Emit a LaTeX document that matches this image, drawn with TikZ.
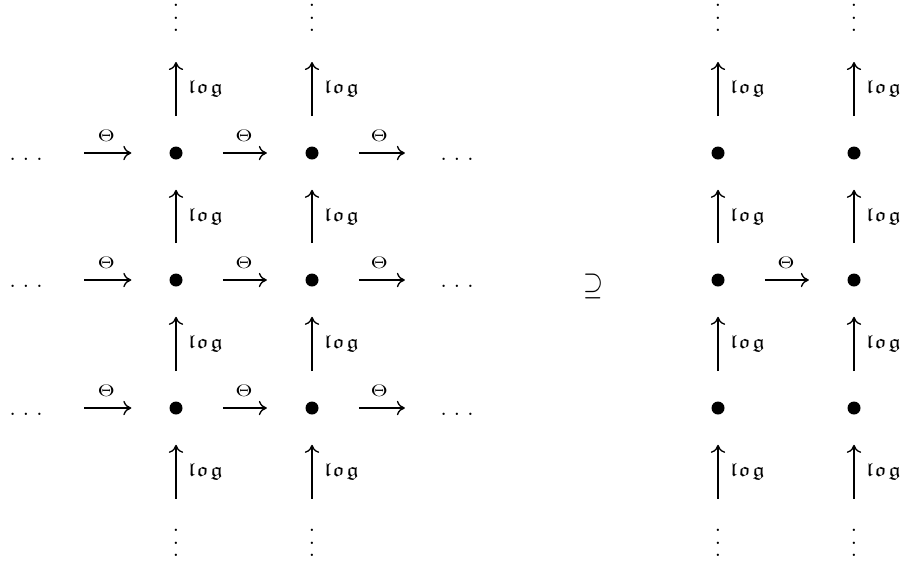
\documentclass[tikz,border=0pt]{standalone}
\usepackage{amssymb}
\usepackage{graphicx}
\usetikzlibrary{arrows.meta}
\begin{document}
\begin{tikzpicture}[x=0.6pt,y=-0.6pt,
  blt/.style={circle,fill=black,inner sep=0pt,minimum size=7.8pt},
  hdotsn/.style={inner sep=0pt,text height=8.6pt,text depth=0pt,font=\fontsize{17.28}{20}\selectfont},
  vdotsn/.style={inner sep=0pt,font=\fontsize{17.28}{20}\selectfont},
  arr/.style={line width=0.8pt,-{Computer Modern Rightarrow[length=4.8pt,width=8.6pt]}},
  hor/.style={arr,shorten <=24pt,shorten >=23pt},
  ver/.style={arr,shorten <=18pt,shorten >=18pt},
  th/.style={above=6.5pt,inner sep=0pt,font=\fontsize{10}{12}\selectfont},
  lg/.style={right=7pt,inner sep=0pt,font=\fontsize{10.95}{13}\selectfont},
  sup/.style={inner sep=0pt,font=\fontsize{10}{12}\selectfont}]
\useasboundingbox (0,0) rectangle (900,565);
\newcommand{\hdt}{.\hspace{3.7pt}.\hspace{3.7pt}.}
\newcommand{\vdt}{\vbox{\baselineskip=7.5pt\hbox{.}\hbox{.}\hbox{.}}}
\newcommand{\lgt}{\scalebox{1.3}[1.05]{$\mathfrak{l}\mkern1.5mu\mathfrak{o}\mkern1.5mu\mathfrak{g}$}}
\newcommand{\tht}{\scalebox{1.3}[1]{$\Theta$}}
% left grid
\foreach \r/\y in {1/153,2/280,3/408}{
  \node[hdotsn] (L\r) at (26,\y) {\hdt};
  \node[blt] (a\r) at (176,\y) {};
  \node[blt] (b\r) at (312,\y) {};
  \node[hdotsn] (R\r) at (457,\y) {\hdt};
  \draw[hor,shorten <=24.5pt,shorten >=22.7pt] (L\r) -- node[th] {\tht} (a\r);
  \draw[hor] (a\r) -- node[th] {\tht} (b\r);
  \draw[hor,shorten >=20.9pt] (b\r) -- node[th] {\tht} (R\r);
}
\node[vdotsn] (ta) at (176,18) {\vdt};
\node[vdotsn] (tb) at (312,18) {\vdt};
\node[vdotsn] (ba) at (176,543) {\vdt};
\node[vdotsn] (bb) at (312,543) {\vdt};
\foreach \c in {a,b}{
  \draw[ver] (\c1) -- node[lg] {\lgt} (t\c);
  \draw[ver] (\c2) -- node[lg] {\lgt} (\c1);
  \draw[ver] (\c3) -- node[lg] {\lgt} (\c2);
  \draw[ver] (b\c) -- node[lg] {\lgt} (\c3);
}
% superset
\node[sup] (s) at (593.5,286.5) {\scalebox{1.54}[1.93]{$\supseteq$}};
% right grid
\foreach \r/\y in {1/153,2/280,3/408}{
  \node[blt] (c\r) at (718,\y) {};
  \node[blt] (d\r) at (854,\y) {};
}
\node[vdotsn] (tc) at (718,18) {\vdt};
\node[vdotsn] (td) at (854,18) {\vdt};
\node[vdotsn] (bc) at (718,543) {\vdt};
\node[vdotsn] (bd) at (854,543) {\vdt};
\draw[hor] (c2) -- node[th] {\tht} (d2);
\foreach \c in {c,d}{
  \draw[ver] (\c1) -- node[lg] {\lgt} (t\c);
  \draw[ver] (\c2) -- node[lg] {\lgt} (\c1);
  \draw[ver] (\c3) -- node[lg] {\lgt} (\c2);
  \draw[ver] (b\c) -- node[lg] {\lgt} (\c3);
}
\end{tikzpicture}
\end{document}
